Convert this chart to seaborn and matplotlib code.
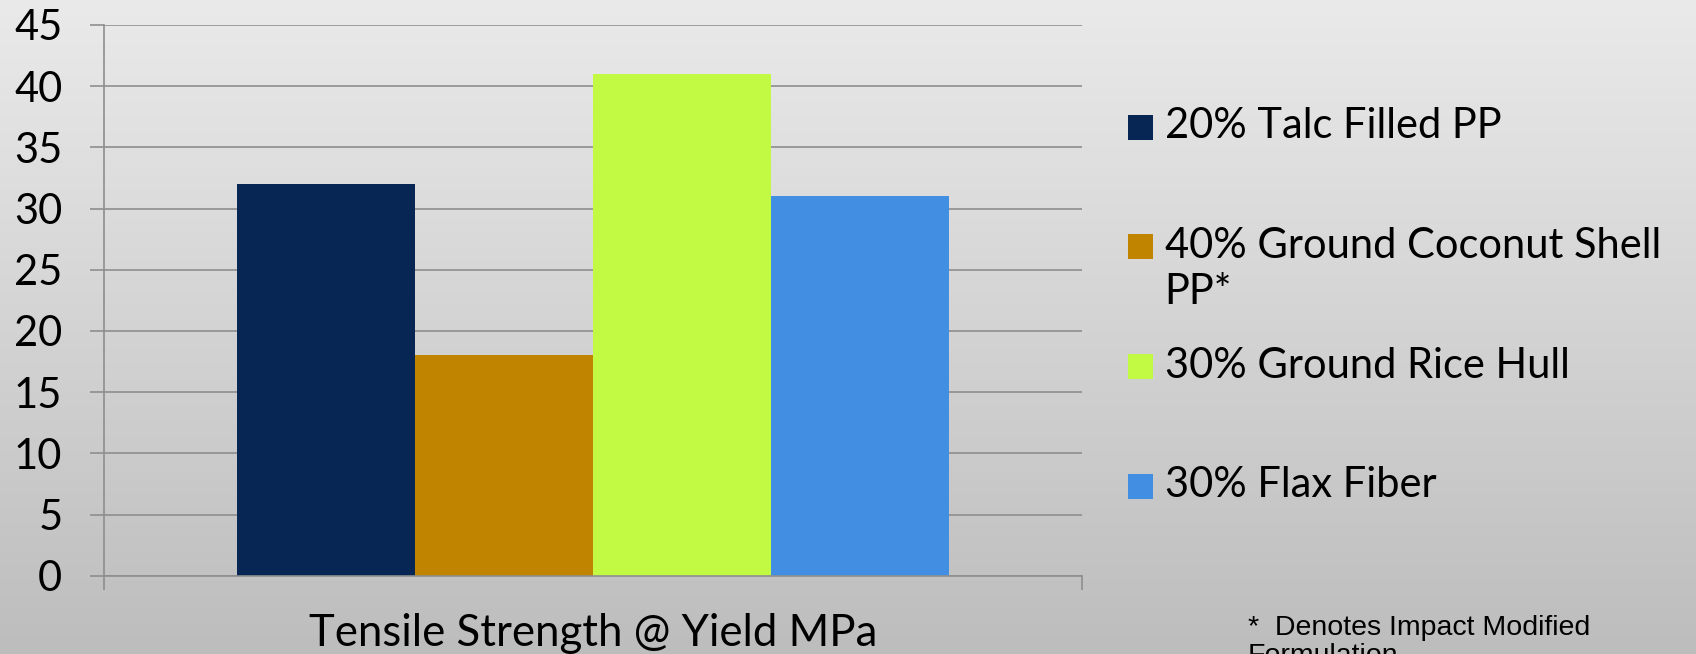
import numpy as np
import pandas as pd
import matplotlib
matplotlib.use("Agg")
import matplotlib.pyplot as plt
from matplotlib.colors import LinearSegmentedColormap
from matplotlib.patches import Patch, Rectangle
from matplotlib.legend_handler import HandlerPatch
import seaborn as sns

# ---- data ----
category = ["Tensile Strength @ Yield MPa"]
materials = ["20% Talc Filled PP", "40% Ground Coconut Shell PP*",
             "30% Ground Rice Hull", "30% Flax Fiber"]
legend_labels = ["20% Talc Filled PP\n", "40% Ground Coconut Shell\nPP*",
                 "30% Ground Rice Hull\n", "30% Flax Fiber\n"]
values = [32, 18, 41, 31]
colors = ["#072653", "#C08400", "#C2F943", "#418EE3"]
yticks = [0, 5, 10, 15, 20, 25, 30, 35, 40, 45]
footnote = "*  Denotes Impact Modified\nFormulation"

df = pd.DataFrame({"metric": category * len(materials),
                   "material": materials,
                   "value": values})

sns.set_theme(style="white")
plt.rcParams["font.family"] = ["Lato", "DejaVu Sans"]
plt.rcParams["text.color"] = "black"
plt.rcParams["xtick.color"] = "black"
plt.rcParams["ytick.color"] = "black"

W, H = 1696, 654
fig = plt.figure(figsize=(W / 100, H / 100), dpi=100)

# gradient background
bg = fig.add_axes([0, 0, 1, 1], zorder=-10)
cmap = LinearSegmentedColormap.from_list("bg", ["#EAEAEA", "#BDBDBD"])
bg.imshow(np.linspace(0, 1, 256).reshape(-1, 1), aspect="auto", cmap=cmap,
          extent=[0, 1, 0, 1], origin="upper")
bg.set_axis_off()

ax = fig.add_axes([104 / W, 1 - 575.7 / H, (1082 - 104) / W, (575.7 - 24.9) / H])
ax.set_facecolor("none")

sns.barplot(data=df, x="metric", y="value", hue="material", hue_order=materials,
            palette=colors, saturation=1, width=0.728, linewidth=0,
            legend=False, ax=ax)

grid_c = "#8E8E8E"
ax.set_ylim(0, 45)
ax.set_yticks(yticks)
ax.set_xlim(-0.5, 0.5)
ax.yaxis.grid(True, color=grid_c, linewidth=1.2)
ax.set_axisbelow(True)
for s in ["top", "right"]:
    ax.spines[s].set_visible(False)
ax.spines["left"].set_color(grid_c)
ax.spines["left"].set_linewidth(1.2)
ax.spines["bottom"].set_color(grid_c)
ax.spines["bottom"].set_linewidth(1.2)
ax.spines["bottom"].set_zorder(5)
ax.set_xlabel("")
ax.set_ylabel("")
ax.tick_params(axis="y", direction="out", length=10, width=1.2, color=grid_c,
               labelsize=30, pad=20, left=True, labelcolor="black")
ax.tick_params(axis="x", which="major", length=0, labelsize=31.5, pad=27,
               labelcolor="black")
ax.set_xticks([-0.5, 0.5], minor=True)
ax.tick_params(axis="x", which="minor", direction="out", length=10, width=1.2,
               color=grid_c, bottom=True)

# legend
def top_square(legend, orig_handle, xdescent, ydescent, width, height, fontsize):
    return Rectangle((-xdescent, -ydescent + 17.0), width, width)

handles = [Patch(facecolor=c, edgecolor="none") for c in colors]
leg = fig.legend(handles, legend_labels, loc="upper left",
                 bbox_to_anchor=(1128 / W, 1 - 107 / H), bbox_transform=fig.transFigure,
                 frameon=False, fontsize=30, borderpad=0, borderaxespad=0,
                 handlelength=0.6, handleheight=0.6, handletextpad=0.28,
                 labelspacing=0.85, labelcolor="black",
                 handler_map={Patch: HandlerPatch(patch_func=top_square)})
for t in leg.get_texts():
    t.set_linespacing(1.27)
    t.set_color("black")

fig.text(1248 / W, 1 - 663 / H, footnote, fontsize=20.5, family="Liberation Sans",
         va="baseline", ha="left", color="black", linespacing=1.1)

fig.savefig("out.png", dpi=100)
